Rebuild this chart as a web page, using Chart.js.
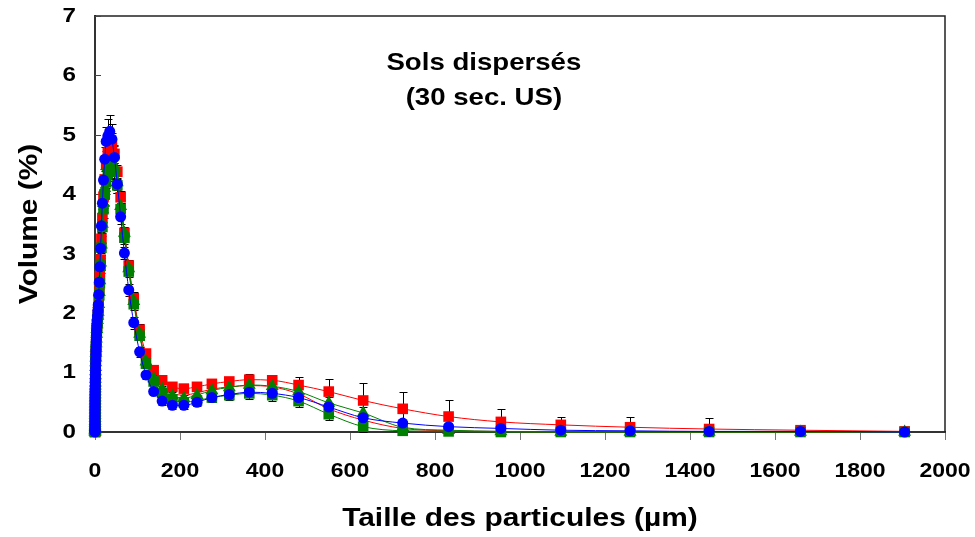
<!DOCTYPE html>
<html>
<head>
<meta charset="utf-8">
<script src="https://cdn.jsdelivr.net/npm/chart.js@4.4.0/dist/chart.umd.min.js"></script>
<style>
  html, body { margin: 0; padding: 0; background: #fff; }
</style>
</head>
<body>
<canvas id="myChart" width="975" height="537"></canvas>
<script>
// tailles des particules (µm), classes du granulomètre
const sizes = [
  0.0398, 0.0457, 0.0525, 0.0603, 0.0692, 0.0794, 0.0912,
  0.105, 0.120, 0.138, 0.158, 0.182, 0.209, 0.240, 0.275, 0.316, 0.363, 0.417, 0.479, 0.550, 0.631, 0.724, 0.832, 0.955,
  1.10, 1.26, 1.45, 1.66, 1.91, 2.19, 2.51, 2.88, 3.31, 3.80, 4.37, 5.01, 5.75, 6.61, 7.59,
  8.71, 10.0, 11.5, 13.2, 15.1, 17.4, 20.0, 22.9, 26.3, 30.2, 34.7, 39.8, 45.7, 52.5, 60.3, 69.2, 79.4, 91.2,
  105, 120, 138, 158, 182, 209, 240, 275, 316, 363, 417, 479, 550, 631, 724, 832, 955,
  1096, 1259, 1445, 1660, 1905
];

// Volume (%) - série bleue (ronds)
const blueVals = [
  0.00, 0.01, 0.02, 0.03, 0.05, 0.07, 0.10,
  0.13, 0.17, 0.21, 0.26, 0.31, 0.36, 0.41, 0.46, 0.51, 0.56, 0.61, 0.66, 0.71, 0.76, 0.81, 0.87, 0.93,
  1.00, 1.07, 1.15, 1.23, 1.31, 1.39, 1.47, 1.55, 1.63, 1.71, 1.79, 1.87, 1.95, 2.04, 2.14,
  2.31, 2.52, 2.78, 3.09, 3.47, 3.85, 4.24, 4.59, 4.89, 4.98, 5.06, 4.93, 4.62, 4.17, 3.62, 3.01, 2.39, 1.84,
  1.35, 0.96, 0.68, 0.52, 0.45, 0.45, 0.50, 0.58, 0.63, 0.67, 0.65, 0.58, 0.42, 0.24, 0.15, 0.09, 0.06,
  0.03, 0.02, 0.01, 0.01, 0.00
];
// série rouge (carrés)
const redVals = [
  0.00, 0.01, 0.02, 0.03, 0.04, 0.06, 0.09,
  0.12, 0.16, 0.20, 0.24, 0.29, 0.34, 0.39, 0.44, 0.49, 0.54, 0.59, 0.64, 0.69, 0.74, 0.79, 0.84, 0.90,
  0.96, 1.03, 1.10, 1.18, 1.26, 1.34, 1.42, 1.50, 1.58, 1.66, 1.74, 1.82, 1.89, 1.97, 2.05,
  2.20, 2.40, 2.62, 2.90, 3.25, 3.60, 3.95, 4.25, 4.50, 4.70, 4.85, 4.85, 4.68, 4.38, 3.95, 3.35, 2.80, 2.25,
  1.72, 1.32, 1.04, 0.87, 0.76, 0.73, 0.76, 0.81, 0.85, 0.88, 0.87, 0.79, 0.68, 0.53, 0.39, 0.26, 0.17,
  0.12, 0.08, 0.05, 0.03, 0.01
];
// série verte (triangles)
const greenTriVals = [
  0.00, 0.01, 0.02, 0.03, 0.04, 0.06, 0.08,
  0.11, 0.15, 0.19, 0.23, 0.28, 0.33, 0.38, 0.43, 0.48, 0.53, 0.58, 0.63, 0.68, 0.73, 0.78, 0.83, 0.89,
  0.95, 1.02, 1.09, 1.17, 1.25, 1.33, 1.41, 1.49, 1.57, 1.65, 1.73, 1.81, 1.88, 1.95, 2.02,
  2.15, 2.35, 2.55, 2.85, 3.15, 3.50, 3.85, 4.10, 4.30, 4.45, 4.55, 4.55, 4.45, 4.20, 3.80, 3.35, 2.75, 2.20,
  1.65, 1.18, 0.90, 0.72, 0.61, 0.57, 0.62, 0.70, 0.75, 0.79, 0.77, 0.68, 0.49, 0.32, 0.08, 0.03, 0.01,
  0.00, 0.00, 0.00, 0.00, 0.00
];
// série verte (carrés)
const greenSqVals = [
  0.00, 0.01, 0.02, 0.03, 0.04, 0.06, 0.08,
  0.11, 0.14, 0.18, 0.22, 0.27, 0.32, 0.37, 0.42, 0.47, 0.52, 0.57, 0.62, 0.67, 0.72, 0.77, 0.82, 0.88,
  0.94, 1.00, 1.07, 1.15, 1.23, 1.31, 1.39, 1.47, 1.55, 1.63, 1.71, 1.79, 1.86, 1.93, 2.00,
  2.10, 2.30, 2.50, 2.80, 3.10, 3.45, 3.75, 4.00, 4.20, 4.35, 4.45, 4.45, 4.38, 4.15, 3.75, 3.27, 2.70, 2.15,
  1.62, 1.15, 0.85, 0.66, 0.55, 0.50, 0.53, 0.58, 0.62, 0.65, 0.62, 0.52, 0.30, 0.09, 0.02, 0.01, 0.00,
  0.00, 0.00, 0.00, 0.00, 0.00
];
// courbe rouge sans marqueurs
const red2Vals = [
  0.00, 0.01, 0.02, 0.03, 0.04, 0.06, 0.08,
  0.11, 0.15, 0.19, 0.23, 0.28, 0.33, 0.38, 0.43, 0.48, 0.53, 0.58, 0.63, 0.68, 0.73, 0.78, 0.83, 0.89,
  0.95, 1.02, 1.09, 1.17, 1.25, 1.33, 1.41, 1.49, 1.57, 1.65, 1.73, 1.81, 1.88, 1.95, 2.02,
  2.15, 2.35, 2.55, 2.85, 3.15, 3.50, 3.85, 4.10, 4.30, 4.45, 4.55, 4.55, 4.45, 4.20, 3.80, 3.35, 2.75, 2.20,
  1.65, 1.20, 0.92, 0.75, 0.65, 0.62, 0.66, 0.72, 0.76, 0.78, 0.76, 0.64, 0.39, 0.20, 0.06, 0.02, 0.01,
  0.00, 0.00, 0.00, 0.00, 0.00
];

// écarts-types
const blueErr = [
  0.05, 0.05, 0.05, 0.05, 0.05, 0.05, 0.05,
  0.05, 0.05, 0.05, 0.05, 0.05, 0.05, 0.05, 0.05, 0.05, 0.05, 0.05, 0.05, 0.05, 0.05, 0.05, 0.05, 0.05,
  0.05, 0.05, 0.05, 0.05, 0.05, 0.05, 0.05, 0.05, 0.05, 0.05, 0.05, 0.05, 0.05, 0.05, 0.05,
  0.08, 0.10, 0.10, 0.12, 0.12, 0.15, 0.18, 0.20, 0.25, 0.28, 0.28, 0.25, 0.20, 0.15, 0.12, 0.10, 0.10, 0.10,
  0.08, 0.07, 0.06, 0.06, 0.06, 0.06, 0.06, 0.07, 0.07, 0.08, 0.08, 0.08, 0.06, 0.05, 0.04, 0.03, 0.02,
  0.02, 0.01, 0.01, 0.01, 0.00
];
const redErr = [
  0.05, 0.05, 0.05, 0.05, 0.05, 0.05, 0.05,
  0.05, 0.05, 0.05, 0.05, 0.05, 0.05, 0.05, 0.05, 0.05, 0.05, 0.05, 0.05, 0.05, 0.05, 0.05, 0.05, 0.05,
  0.05, 0.05, 0.05, 0.05, 0.05, 0.05, 0.05, 0.05, 0.05, 0.05, 0.05, 0.05, 0.05, 0.05, 0.05,
  0.08, 0.10, 0.10, 0.12, 0.12, 0.15, 0.18, 0.20, 0.22, 0.22, 0.20, 0.18, 0.15, 0.12, 0.10, 0.10, 0.10, 0.10,
  0.10, 0.08, 0.06, 0.05, 0.05, 0.05, 0.06, 0.07, 0.08, 0.09, 0.09, 0.14, 0.21, 0.29, 0.29, 0.28, 0.22,
  0.14, 0.17, 0.18, 0.06, 0.01
];
const greenErr = [
  0.05, 0.05, 0.05, 0.05, 0.05, 0.05, 0.05,
  0.05, 0.05, 0.05, 0.05, 0.05, 0.05, 0.05, 0.05, 0.05, 0.05, 0.05, 0.05, 0.05, 0.05, 0.05, 0.05, 0.05,
  0.05, 0.05, 0.05, 0.05, 0.05, 0.05, 0.05, 0.05, 0.05, 0.05, 0.05, 0.05, 0.05, 0.05, 0.05,
  0.08, 0.10, 0.10, 0.12, 0.12, 0.15, 0.15, 0.18, 0.20, 0.20, 0.20, 0.18, 0.15, 0.12, 0.10, 0.10, 0.10, 0.10,
  0.08, 0.07, 0.06, 0.06, 0.06, 0.06, 0.07, 0.07, 0.08, 0.09, 0.09, 0.10, 0.10, 0.10, 0.05, 0.03, 0.01,
  0.00, 0.00, 0.00, 0.00, 0.00
];

const xTicks = [0, 200, 400, 600, 800, 1000, 1200, 1400, 1600, 1800, 2000];
const yTicks = [0, 1, 2, 3, 4, 5, 6, 7];
const titleLines = ['Sols dispersés', '(30 sec. US)'];
const xTitle = 'Taille des particules (µm)';
const yTitle = 'Volume (%)';

const FONT = '"Liberation Sans", Arial, sans-serif';
const STRETCH = 1.15; // le texte de l'original est étiré horizontalement

function pts(vals) {
  return sizes.map((s, i) => ({ x: s, y: vals[i] }));
}

// texte étiré, avec rotation éventuelle
function drawText(ctx, txt, x, y, size, align, rot) {
  ctx.save();
  ctx.translate(x, y);
  if (rot) ctx.rotate(rot);
  ctx.scale(STRETCH, 1);
  ctx.font = 'bold ' + size + 'px ' + FONT;
  ctx.textAlign = align;
  ctx.textBaseline = 'middle';
  ctx.fillStyle = '#000';
  ctx.fillText(txt, 0, 0);
  ctx.restore();
}

// barres d'erreur (dessinées sous les marqueurs)
const errorBars = {
  id: 'errorBars',
  beforeDatasetsDraw(chart) {
    const { ctx, scales: { x, y } } = chart;
    ctx.save();
    ctx.strokeStyle = '#000';
    ctx.lineWidth = 1;
    chart.data.datasets.forEach(ds => {
      if (!ds.errors) return;
      ds.data.forEach((p, i) => {
        const e = ds.errors[i];
        if (!e) return;
        const px = Math.round(x.getPixelForValue(p.x)) + 0.5;
        const top = Math.round(y.getPixelForValue(p.y + e)) + 0.5;
        const bot = Math.round(y.getPixelForValue(Math.max(0, p.y - e))) + 0.5;
        ctx.beginPath();
        ctx.moveTo(px, top); ctx.lineTo(px, bot);
        ctx.moveTo(px - 4, top); ctx.lineTo(px + 4, top);
        ctx.moveTo(px - 4, bot); ctx.lineTo(px + 4, bot);
        ctx.stroke();
      });
    });
    ctx.restore();
  }
};

// cadre, graduations Y, étiquettes, titres
const decor = {
  id: 'decor',
  beforeDatasetsDraw(chart) {
    const { ctx, chartArea: a, scales: { x, y } } = chart;
    ctx.save();
    ctx.strokeStyle = '#222';
    ctx.lineWidth = 1.5;
    ctx.beginPath();
    ctx.moveTo(a.left, a.top); ctx.lineTo(a.right, a.top); ctx.lineTo(a.right, a.bottom);
    ctx.stroke();
    ctx.strokeStyle = '#444';
    ctx.lineWidth = 1;
    yTicks.forEach(v => {
      const py = Math.round(y.getPixelForValue(v)) + 0.5;
      ctx.beginPath();
      ctx.moveTo(a.left, py); ctx.lineTo(a.left + 6, py);
      ctx.stroke();
    });
    ctx.restore();

    yTicks.forEach(v => drawText(ctx, String(v), a.left - 19, y.getPixelForValue(v), 21, 'right'));
    xTicks.forEach(v => drawText(ctx, String(v), x.getPixelForValue(v), a.bottom + 39, 20, 'center'));
    drawText(ctx, xTitle, (a.left + a.right) / 2, a.bottom + 87, 26, 'center');
    drawText(ctx, yTitle, 30, (a.top + a.bottom) / 2, 26, 'center', -Math.PI / 2);

    const cx = x.getPixelForValue(915);
    drawText(ctx, titleLines[0], cx, y.getPixelForValue(6.21), 24, 'center');
    drawText(ctx, titleLines[1], cx, y.getPixelForValue(5.62), 24, 'center');
  }
};

const line = { showLine: true, borderWidth: 1, cubicInterpolationMode: 'monotone', clip: false };

const ctx = document.getElementById('myChart').getContext('2d');
const myChart = new Chart(ctx, {
  type: 'scatter',
  data: {
    datasets: [
      { ...line, label: 'bleu', data: pts(blueVals), errors: blueErr,
        borderColor: '#0000FF', backgroundColor: '#0000FF', pointStyle: 'circle', pointRadius: 5.5, pointBorderWidth: 0 },
      { ...line, label: 'vert triangles', data: pts(greenTriVals), errors: greenErr,
        borderColor: '#008000', backgroundColor: '#008000', pointStyle: 'triangle', pointRadius: 7.5, pointBorderWidth: 0 },
      { ...line, label: 'vert carrés', data: pts(greenSqVals), errors: greenErr,
        borderColor: '#008000', backgroundColor: '#008000', pointStyle: 'rect', pointRadius: 7.5, pointBorderWidth: 0 },
      { ...line, label: 'rouge 2', data: pts(red2Vals),
        borderColor: '#FF0000', backgroundColor: '#FF0000', pointRadius: 0 },
      { ...line, label: 'rouge', data: pts(redVals), errors: redErr,
        borderColor: '#FF0000', backgroundColor: '#FF0000', pointStyle: 'rect', pointRadius: 7.5, pointBorderWidth: 0 }
    ]
  },
  options: {
    responsive: false,
    animation: false,
    layout: { padding: { top: 16, right: 30, left: 0, bottom: 0 } },
    plugins: { legend: { display: false }, tooltip: { enabled: false } },
    scales: {
      x: {
        type: 'linear', min: 0, max: 2000,
        afterFit(s) { s.height = 105; s.paddingLeft = 0; s.paddingRight = 0; },
        afterBuildTicks(s) { s.ticks = xTicks.map(v => ({ value: v })); },
        ticks: { display: false },
        grid: { drawOnChartArea: false, drawTicks: true, tickLength: 8, color: '#777' },
        border: { color: '#333', width: 2 },
        title: { display: false }
      },
      y: {
        type: 'linear', min: 0, max: 7,
        afterFit(s) { s.width = 95; s.paddingTop = 0; s.paddingBottom = 0; },
        afterBuildTicks(s) { s.ticks = yTicks.map(v => ({ value: v })); },
        ticks: { display: false },
        grid: { drawOnChartArea: false, drawTicks: false },
        border: { color: '#333', width: 2 },
        title: { display: false }
      }
    }
  },
  plugins: [errorBars, decor]
});
</script>
</body>
</html>
